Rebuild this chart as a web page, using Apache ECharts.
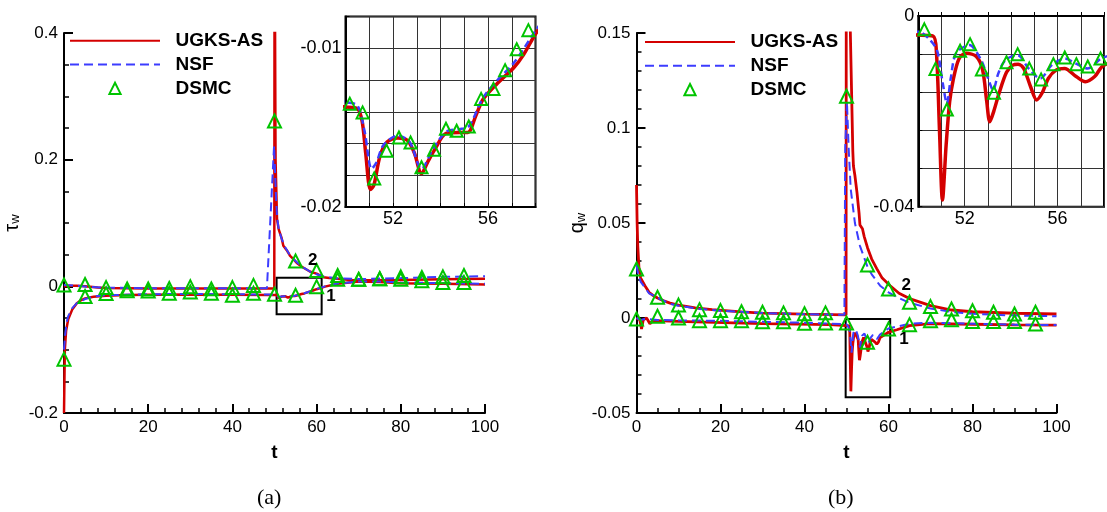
<!DOCTYPE html>
<html><head><meta charset="utf-8">
<script src="https://cdn.jsdelivr.net/npm/echarts@6/dist/echarts.min.js"></script>
<style>html,body{margin:0;padding:0;background:#fff}#c{width:1107px;height:512px}</style>
</head><body><div id="c"></div>
<script>
// ---------- data (t, value) ----------
// panel (a): wall shear stress tau_w
const tauUgks1 = [[0,-0.2],[0.2,-0.1],[0.5,-0.07],[1,-0.052],[2,-0.036],[3,-0.027],[4,-0.022],[5,-0.019],[7,-0.0165],[10,-0.015],[15,-0.0138],[20,-0.0132],[30,-0.013],[40,-0.0132],[49,-0.0136],
  [50,-0.0137],[50.5,-0.0138],[50.7,-0.0146],[50.85,-0.0166],[51.05,-0.0189],[51.2,-0.0186],[51.45,-0.0168],[51.75,-0.0159],[52.2,-0.01565],[52.6,-0.0158],[52.9,-0.0166],[53.2,-0.0179],[53.45,-0.0172],[53.75,-0.0164],[54.25,-0.01535],[54.8,-0.0153],[55.15,-0.0153],[55.5,-0.0142],[55.8,-0.0132],[56.4,-0.0122],[57.1,-0.0112],[57.5,-0.0104],[58,-0.0091],
  [59,-0.007],[60,-0.0045],[62,-0.0005],[65,0.004],[70,0.0075],[75,0.007],[80,0.005],[90,0.004],[100,0.003]];
const tauNsf1 = [[0,-0.1],[0.3,-0.075],[0.6,-0.058],[1,-0.047],[2,-0.034],[3,-0.027],[5,-0.02],[7,-0.016],[10,-0.014],[20,-0.0125],[30,-0.012],[40,-0.0125],[49,-0.013],
  [50,-0.0134],[50.5,-0.0136],[50.8,-0.0152],[51.1,-0.0176],[51.3,-0.0172],[51.6,-0.0161],[52.2,-0.0155],[52.7,-0.0159],[53.2,-0.0176],[53.7,-0.0163],[54.3,-0.0152],[54.8,-0.0151],[55.2,-0.0149],[55.8,-0.0131],[56.4,-0.012],[57.1,-0.0109],[58,-0.0089],
  [59,-0.0068],[60,-0.0042],[62,0.0],[65,0.0045],[70,0.0075],[75,0.0075],[80,0.006],[90,0.005],[100,0.004]];
const tauUgks2 = [[0,0.0],[1,0.001],[3,0.001],[5,0.0],[8,-0.002],[10,-0.0025],[15,-0.003],[20,-0.0035],[30,-0.0035],[40,-0.0035],[49.95,-0.0035],[50.02,0.6],[50.25,0.2],[50.6,0.106],[51,0.09],[51.7,0.076],[52.1,0.064],[52.9,0.057],[53.7,0.048],[54.5,0.043],[55.3,0.037],[56.5,0.031],[57.5,0.027],[58.5,0.023],[60,0.02],[61.6,0.0145],[63,0.013],[65,0.012],[68,0.010],[72,0.0095],[80,0.010],[90,0.011],[100,0.012]];
const tauNsf2 = [[0,0.002],[3,0.001],[6,-0.001],[10,-0.002],[20,-0.003],[30,-0.003],[40,-0.003],[48.2,-0.003],[49.9,0.222],[50.3,0.15],[50.6,0.11],[51,0.09],[51.7,0.075],[52.5,0.062],[53.5,0.051],[54.5,0.043],[55.5,0.037],[57,0.029],[58.5,0.023],[60,0.019],[62,0.015],[65,0.0125],[70,0.0115],[80,0.013],[90,0.015],[100,0.016]];
const tauDsmc1 = [[0,-0.115],[5,-0.016],[10,-0.0115],[15,-0.007],[20,-0.0075],[25,-0.011],[30,-0.009],[35,-0.011],[40,-0.014],[45,-0.011],[50,-0.0125],[55,-0.014],[60,-0.0005],[65,0.011],[70,0.011],[75,0.012],[80,0.011],[85,0.009],[90,0.006],[95,0.006]];
const tauDsmc2 = [[0,0.002],[5,0.003],[10,-0.002],[15,-0.004],[20,-0.004],[25,-0.0035],[30,-0.0005],[35,-0.004],[40,-0.002],[45,0.0015],[50,0.261],[55,0.040],[60,0.025],[65,0.017],[70,0.011],[75,0.012],[80,0.015],[85,0.014],[90,0.015],[95,0.017]];
const tauDsmcZoom = [[50.18,-0.01349],[50.72,-0.01404],[51.21,-0.0182],[51.73,-0.01645],[52.25,-0.01562],[52.74,-0.01594],[53.2,-0.0175],[53.73,-0.0164],[54.23,-0.01507],[54.68,-0.0152],[55.19,-0.01493],[55.71,-0.01319],[56.23,-0.01256],[56.72,-0.01138],[57.21,-0.01006],[57.7,-0.00886]];

// panel (b): wall heat flux q_w
const qUgks1 = [[0,0],[0.8,-0.001],[1.2,-0.0058],[1.6,-0.001],[2.4,0],[3.2,-0.003],[4,-0.0012],[6,-0.0015],[14,-0.002],[30,-0.003],[46,-0.0035],[50,-0.004],
  [50.64,-0.0042],[50.78,-0.0075],[50.92,-0.025],[51.04,-0.0386],[51.2,-0.027],[51.35,-0.018],[51.5,-0.0135],[51.75,-0.009],[52.06,-0.0078],[52.5,-0.0085],[52.77,-0.0113],[52.95,-0.018],[53.08,-0.0222],[53.25,-0.02],[53.48,-0.0162],[53.8,-0.0118],[54.07,-0.0103],[54.3,-0.0101],[54.54,-0.011],[54.85,-0.015],[55.1,-0.0176],[55.35,-0.016],[55.6,-0.0131],[55.95,-0.0113],[56.3,-0.011],[56.8,-0.0127],[57.2,-0.0138],[57.6,-0.0127],[58,-0.0103],
  [60,-0.0075],[62,-0.0062],[65,-0.004],[70,-0.003],[80,-0.0033],[90,-0.0036],[100,-0.0038]];
const qNsf1 = [[0,0],[1,-0.001],[2,-0.0005],[5,-0.001],[10,-0.0012],[20,-0.0015],[30,-0.002],[40,-0.0025],[50,-0.0033],
  [50.4,-0.0045],[50.8,-0.0071],[51.05,-0.014],[51.23,-0.0183],[51.4,-0.013],[51.63,-0.0078],[52.2,-0.0061],[52.7,-0.0092],[53.0,-0.013],[53.22,-0.0155],[53.45,-0.012],[53.76,-0.0092],[54.28,-0.0082],[54.75,-0.011],[55.25,-0.0131],[55.75,-0.0103],[56.3,-0.0089],[56.8,-0.01],[57.3,-0.011],[57.9,-0.0089],
  [60,-0.0055],[62,-0.0045],[65,-0.003],[70,-0.0025],[80,-0.003],[90,-0.0035],[100,-0.0037]];
const qUgks2 = [[0,0.07],[0.15,0.05],[0.3,0.038],[0.6,0.026],[1,0.021],[2,0.017],[3,0.0135],[4,0.0118],[5,0.0105],[6.5,0.009],[8,0.0078],[10,0.0068],[14,0.0053],[18,0.0044],[25,0.0032],[30,0.0026],[40,0.002],[49.9,0.0016],[49.95,0.2],[50.45,0.2],[51.5,0.088],[51.65,0.08],[52,0.075],[52.5,0.066],[53,0.055],[53.2,0.049],[53.8,0.047],[54.2,0.043],[55,0.037],[56,0.031],[57.2,0.026],[58.5,0.021],[60.4,0.017],[62.5,0.013],[65,0.0102],[70,0.0065],[75,0.0042],[80,0.0033],[90,0.0025],[100,0.0021]];
const qNsf2 = [[0,0.028],[0.3,0.024],[1,0.019],[2,0.016],[3,0.013],[4.8,0.0109],[8,0.0074],[10,0.0065],[15,0.0048],[20,0.0038],[30,0.0026],[40,0.002],[49.5,0.0017],[49.7,0.09],[50.1,0.114],[50.5,0.09],[51,0.068],[52,0.05],[53.2,0.038],[54,0.033],[55,0.027],[56,0.023],[58,0.017],[60,0.0135],[62,0.011],[65,0.008],[70,0.005],[75,0.0032],[80,0.0022],[90,0.0013],[100,0.0009]];
const qDsmc1 = [[0,-0.0005],[5,0.0009],[10,0.0],[15,-0.0014],[20,-0.0014],[25,-0.0014],[30,-0.002],[35,-0.002],[40,-0.0028],[45,-0.0026],[50,-0.0026],[55,-0.0128],[60,-0.0058],[65,-0.0035],[70,-0.0014],[75,-0.0009],[80,-0.0019],[85,-0.0019],[90,-0.0019],[95,-0.0032]];
const qDsmc2 = [[0,0.0258],[5,0.0109],[10,0.0068],[15,0.0044],[20,0.0039],[25,0.0033],[30,0.003],[35,0.0027],[40,0.0023],[45,0.0027],[50,0.1167],[55,0.0279],[60,0.0153],[65,0.0083],[70,0.006],[75,0.0047],[80,0.0038],[85,0.003],[90,0.0021],[95,0.003]];
const qDsmcZoom = [[50.26,-0.0028],[50.74,-0.0111],[51.23,-0.0196],[51.8,-0.0073],[52.23,-0.0059],[52.74,-0.0112],[53.26,-0.0161],[53.8,-0.0097],[54.28,-0.008],[54.78,-0.011],[55.29,-0.0133],[55.82,-0.0101],[56.31,-0.0087],[56.81,-0.0101],[57.3,-0.0106],[57.85,-0.0089]];

// annotation boxes and curve labels (data coordinates)
const boxA = [[50.5, 0.0137], [61.2, -0.0442]];
const boxB = [[49.8, -0.0005], [60.4, -0.0417]];
const labelsA = [[2, 59.1, 0.041], [1, 63.4, -0.0158]];
const labelsB = [[2, 64.2, 0.0174], [1, 63.7, -0.011]];

// ---------- styling ----------
const RED = '#d40000', BLUE = '#3c3cff', GREEN = '#00c400';
const FONT = "'Liberation Sans', Arial, Helvetica, sans-serif";

function mainX(gi, minorSplit) {
  return {
    gridIndex: gi, type: 'value', min: 0, max: 100, interval: 20,
    name: 't', nameLocation: 'middle', nameGap: 30,
    nameTextStyle: { fontFamily: FONT, fontWeight: 'bold', fontSize: 19, color: '#000' },
    axisLine: { onZero: false, lineStyle: { color: '#000', width: 2 } },
    axisTick: { inside: true, length: 9, lineStyle: { color: '#000', width: 2 } },
    minorTick: { show: true, splitNumber: minorSplit, length: 5, lineStyle: { color: '#000', width: 1.5 } },
    axisLabel: { color: '#000', fontSize: 17, fontFamily: FONT, margin: 6 },
    splitLine: { show: false }
  };
}
function mainY(gi, min, max, interval, minorSplit, sym, gap) {
  return {
    gridIndex: gi, type: 'value', min, max, interval,
    name: '{a|' + sym + '}{b|w}', nameLocation: 'middle', nameRotate: 90, nameGap: gap,
    nameTextStyle: { color: '#000', rich: {
      a: { fontSize: 20, fontFamily: FONT, color: '#000' },
      b: { fontSize: 13, fontFamily: FONT, color: '#000', verticalAlign: 'bottom' } } },
    axisLine: { onZero: false, lineStyle: { color: '#000', width: 2 } },
    axisTick: { inside: true, length: 9, lineStyle: { color: '#000', width: 2 } },
    minorTick: { show: true, splitNumber: minorSplit, length: 5, lineStyle: { color: '#000', width: 1.5 } },
    axisLabel: { color: '#000', fontSize: 17, fontFamily: FONT, margin: 6 },
    splitLine: { show: false }
  };
}
function multipleOf(v, step) { const r = v / step; return Math.abs(r - Math.round(r)) < 1e-6; }
function insetX(gi) {
  return {
    gridIndex: gi, type: 'value', min: 50, max: 58, interval: 1,
    axisLine: { lineStyle: { color: '#000', width: 2 } },
    axisTick: { inside: true, length: 4, lineStyle: { color: '#000', width: 1 } },
    axisLabel: { color: '#000', fontSize: 18, fontFamily: FONT, margin: 3,
      formatter: v => (multipleOf(v, 4) ? String(Math.round(v)) : '') },
    splitLine: { show: true, lineStyle: { color: '#333', width: 1 } }
  };
}
function insetY(gi, min, max, interval, labelStep) {
  return {
    gridIndex: gi, type: 'value', min, max, interval,
    axisLine: { lineStyle: { color: '#000', width: 2 } },
    axisTick: { inside: true, length: 4, lineStyle: { color: '#000', width: 1 } },
    axisLabel: { color: '#000', fontSize: 18, fontFamily: FONT, margin: 4,
      formatter: v => (multipleOf(v, labelStep) ? String(+v.toFixed(3)).replace(/^-0$/, '0') : '') },
    splitLine: { show: true, lineStyle: { color: '#333', width: 1 } }
  };
}
function ugks(data, ai, w, smooth, extra) {
  return Object.assign({ type: 'line', name: 'UGKS-AS', xAxisIndex: ai, yAxisIndex: ai, data, symbol: 'none',
    smooth, lineStyle: { color: RED, width: w }, itemStyle: { color: RED }, z: 2 }, extra || {});
}
function nsf(data, ai, w, dash, smooth) {
  return { type: 'line', name: 'NSF', xAxisIndex: ai, yAxisIndex: ai, data, symbol: 'none',
    smooth, lineStyle: { color: BLUE, width: w, type: dash }, itemStyle: { color: BLUE }, z: 3 };
}
function dsmc(data, ai, size) {
  return { type: 'line', name: 'DSMC', xAxisIndex: ai, yAxisIndex: ai, data, symbol: 'triangle', symbolSize: size,
    showSymbol: true, showAllSymbol: true, lineStyle: { opacity: 0, width: 0 },
    itemStyle: { color: 'rgba(255,255,255,0)', borderColor: GREEN, borderWidth: 2 }, z: 4 };
}
function boxMark(box) {
  return { silent: true, label: { show: false },
    itemStyle: { color: 'rgba(0,0,0,0)', borderColor: '#000', borderWidth: 2 },
    data: [[{ xAxis: box[0][0], yAxis: box[0][1] }, { xAxis: box[1][0], yAxis: box[1][1] }]] };
}
function labelMark(labels) {
  return { silent: true, symbol: 'rect', symbolSize: 1, itemStyle: { color: 'rgba(0,0,0,0)' },
    label: { show: true, position: 'inside', formatter: '{c}', fontFamily: FONT, fontWeight: 'bold', fontSize: 17, color: '#000' },
    data: labels.map(l => ({ coord: [l[1], l[2]], value: l[0] })) };
}
function legendAt(left, top) {
  return {
    left, top, padding: 0, orient: 'vertical', itemWidth: 90, itemHeight: 14, itemGap: 3.8, selectedMode: false,
    formatter: n => '  ' + n,
    textStyle: { fontFamily: FONT, fontSize: 19, fontWeight: 'bold', color: '#000', lineHeight: 20 },
    data: [
      { name: 'UGKS-AS', itemStyle: { opacity: 0 } },
      { name: 'NSF', itemStyle: { opacity: 0 } },
      { name: 'DSMC', itemStyle: { color: 'rgba(0,0,0,0)', borderColor: GREEN, borderWidth: 2 }, lineStyle: { opacity: 0 } }
    ]
  };
}

const chart = echarts.init(document.getElementById('c'), null, { renderer: 'canvas' });
chart.setOption({
  animation: false,
  backgroundColor: '#fff',
  grid: [
    { left: 64, top: 33, width: 421, height: 380 },
    { left: 345.5, top: 16.5, width: 190, height: 190.5, show: true, borderColor: '#000', borderWidth: 2, backgroundColor: '#fff' },
    { left: 636.5, top: 33, width: 420, height: 380 },
    { left: 918.3, top: 16, width: 187.5, height: 190.7, show: true, borderColor: '#000', borderWidth: 2, backgroundColor: '#fff' }
  ],
  xAxis: [ mainX(0, 5), insetX(1), mainX(2, 4), insetX(3) ],
  yAxis: [
    mainY(0, -0.2, 0.4, 0.2, 4, 'τ', 42),
    insetY(1, -0.02, -0.008, 0.002, 0.01),
    mainY(2, -0.05, 0.15, 0.05, 5, 'q', 44),
    insetY(3, -0.04, 0, 0.008, 0.04)
  ],
  legend: [ legendAt(69, 30.7), legendAt(644, 32) ],
  series: [
    // panel (a)
    ugks(tauUgks1, 0, 2.5, false, { markArea: boxMark(boxA), markPoint: labelMark(labelsA) }),
    ugks(tauUgks2, 0, 2.5, false),
    nsf(tauNsf1, 0, 2, [9, 5], false),
    nsf(tauNsf2, 0, 2, [9, 5], false),
    dsmc(tauDsmc1, 0, 13),
    dsmc(tauDsmc2, 0, 13),
    // inset (a)
    ugks(tauUgks1, 1, 3.5, 0.3),
    nsf(tauNsf1, 1, 2.5, [7, 4], 0.3),
    dsmc(tauDsmcZoom, 1, 12),
    // panel (b)
    ugks(qUgks1, 2, 2.8, false, { markArea: boxMark(boxB), markPoint: labelMark(labelsB) }),
    ugks(qUgks2, 2, 2.8, false),
    nsf(qNsf1, 2, 2, [9, 5], false),
    nsf(qNsf2, 2, 2, [9, 5], false),
    dsmc(qDsmc1, 2, 13),
    dsmc(qDsmc2, 2, 13),
    // inset (b)
    ugks(qUgks1, 3, 3.5, 0.3),
    nsf(qNsf1, 3, 2.5, [7, 4], 0.3),
    dsmc(qDsmcZoom, 3, 12)
  ],
  graphic: [
    { type: 'text', left: 257, top: 487, style: { text: '(a)', font: "22px 'Liberation Serif', 'DejaVu Serif', serif", fill: '#000' } },
    { type: 'text', left: 828, top: 487, style: { text: '(b)', font: "22px 'Liberation Serif', 'DejaVu Serif', serif", fill: '#000' } }
  ]
});
</script>
</body></html>
